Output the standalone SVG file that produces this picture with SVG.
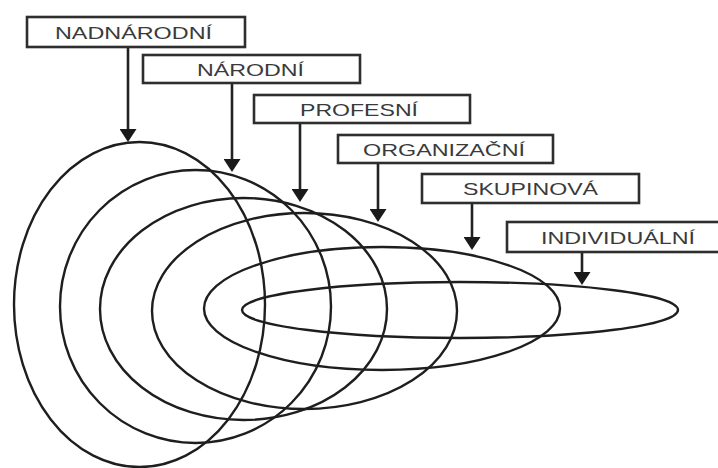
<svg xmlns="http://www.w3.org/2000/svg" width="718" height="468" viewBox="0 0 718 468">
<style>
.ring{fill:none;stroke:#1e1e1e;stroke-width:2.4}
.box{fill:#fff;stroke:#2e2e2e;stroke-width:2.6}
.lbl{font-family:"Liberation Sans",Arial,sans-serif;font-size:17px;fill:#3a3a3a}
.arr{stroke:#222;stroke-width:2.6;fill:none;marker-end:url(#ah)}
</style>
<defs>
<marker id="ah" viewBox="0 0 13 17" refX="8" refY="8.5" markerWidth="13" markerHeight="17" markerUnits="userSpaceOnUse" orient="auto">
<path d="M0,0 L13,8.5 L0,17 z" fill="#1a1a1a"/>
</marker>
</defs>
<rect width="718" height="468" fill="#fff"/>
<g id="rings">
<ellipse id="ring-nadnarodni" class="ring" cx="139.5" cy="304.5" rx="125.5" ry="162.5"/>
<ellipse id="ring-narodni" class="ring" cx="195.5" cy="306.5" rx="135.5" ry="136.5"/>
<ellipse id="ring-profesni" class="ring" cx="243.5" cy="309" rx="143.5" ry="111"/>
<ellipse id="ring-organizacni" class="ring" cx="304.5" cy="311" rx="152.5" ry="98"/>
<ellipse id="ring-skupinova" class="ring" cx="382" cy="308.5" rx="178" ry="61.5"/>
<ellipse id="ring-individualni" class="ring" cx="460" cy="310" rx="218" ry="28"/>
</g>
<g id="connectors">
<line class="arr" x1="128" y1="47" x2="128" y2="137"/>
<line class="arr" x1="232" y1="83" x2="232" y2="167"/>
<line class="arr" x1="300" y1="123" x2="300" y2="197"/>
<line class="arr" x1="378" y1="163" x2="378" y2="217"/>
<line class="arr" x1="472" y1="203" x2="472" y2="245"/>
<line class="arr" x1="582" y1="252" x2="582" y2="280"/>
</g>
<g id="node-nadnarodni">
<rect class="box" x="27" y="17" width="218" height="30"/>
<text class="lbl" x="55" y="38.5" textLength="157" lengthAdjust="spacingAndGlyphs">NADNÁRODNÍ</text>
</g>
<g id="node-narodni">
<rect class="box" x="143" y="55" width="217" height="28"/>
<text class="lbl" x="197" y="76" textLength="107" lengthAdjust="spacingAndGlyphs">NÁRODNÍ</text>
</g>
<g id="node-profesni">
<rect class="box" x="254" y="95" width="216" height="28"/>
<text class="lbl" x="300" y="115.5" textLength="118" lengthAdjust="spacingAndGlyphs">PROFESNÍ</text>
</g>
<g id="node-organizacni">
<rect class="box" x="338" y="135" width="215" height="28"/>
<text class="lbl" x="363" y="156" textLength="162" lengthAdjust="spacingAndGlyphs">ORGANIZAČNÍ</text>
</g>
<g id="node-skupinova">
<rect class="box" x="422" y="174" width="217" height="29"/>
<text class="lbl" x="463" y="195" textLength="135" lengthAdjust="spacingAndGlyphs">SKUPINOVÁ</text>
</g>
<g id="node-individualni">
<rect class="box" x="507" y="222" width="222" height="30"/>
<text class="lbl" x="541" y="243.5" textLength="154" lengthAdjust="spacingAndGlyphs">INDIVIDUÁLNÍ</text>
</g>
</svg>
